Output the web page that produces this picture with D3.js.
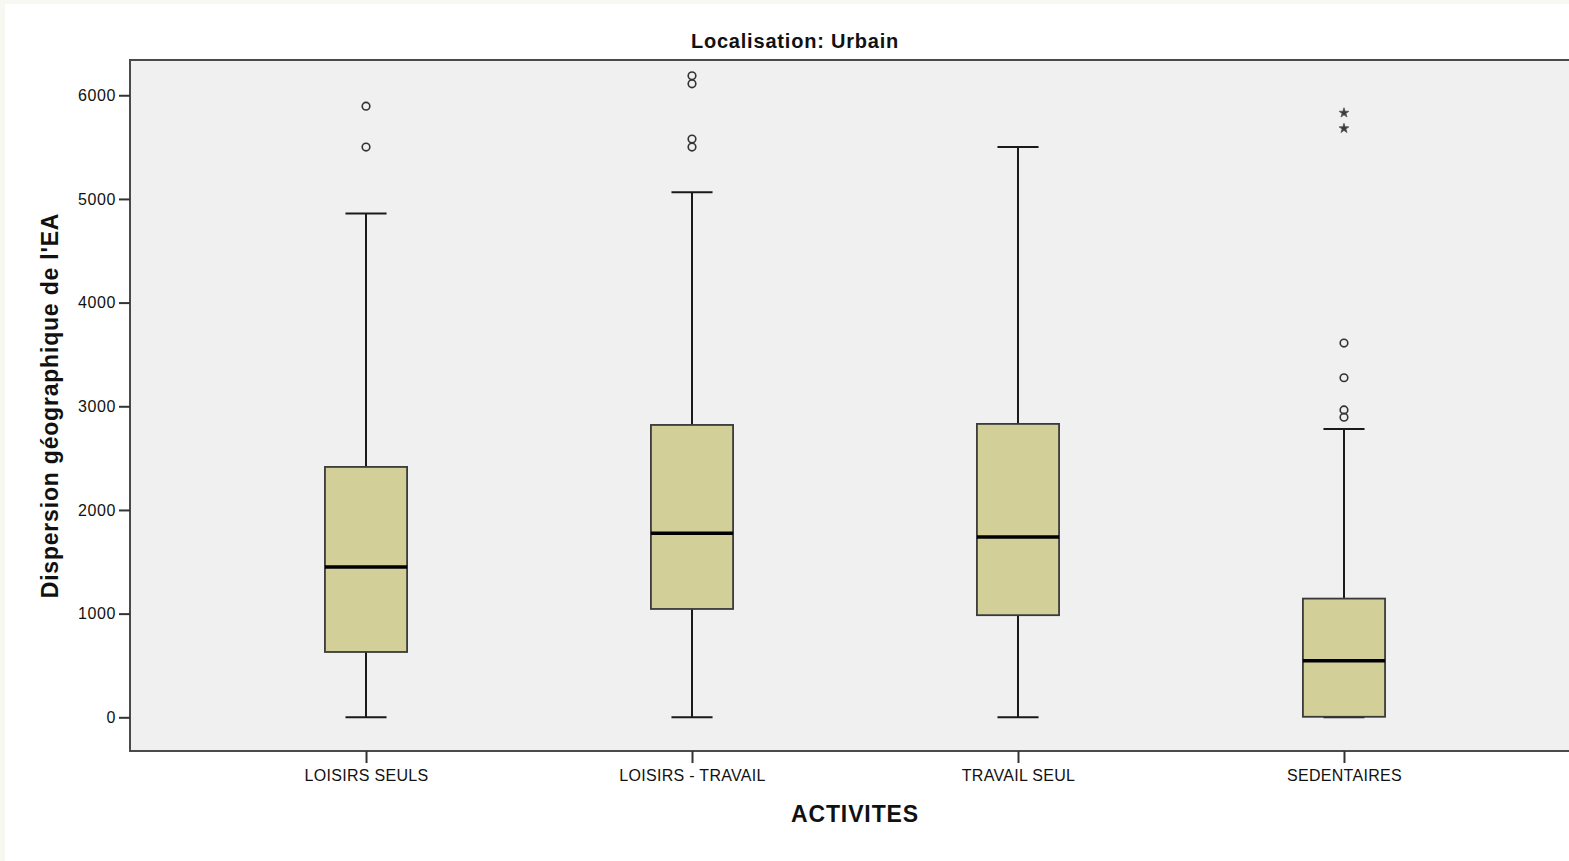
<!DOCTYPE html>
<html>
<head>
<meta charset="utf-8">
<script src="https://cdn.jsdelivr.net/npm/d3@7"></script>
<style>
  html, body { margin: 0; padding: 0; background: #ffffff; }
  svg { display: block; }
  text { font-family: "Liberation Sans", Arial, sans-serif; fill: #111; }
</style>
</head>
<body>
<svg id="chart" width="1569" height="861"></svg>
<script>
// ---- data ----
const categories = ["LOISIRS SEULS", "LOISIRS - TRAVAIL", "TRAVAIL SEUL", "SEDENTAIRES"];
const whiskerLow  = [0, 0, 0, 0];
const q1Values    = [630, 1045, 985, 5];
const medians     = [1450, 1775, 1740, 545];
const q3Values    = [2415, 2820, 2830, 1145];
const whiskerHigh = [4860, 5065, 5500, 2780];
// outliers (circles) and extremes (stars): [categoryIndex, value]
const outliers = [[0, 5895], [0, 5500],
                  [1, 6188], [1, 6110], [1, 5578], [1, 5500],
                  [3, 3610], [3, 3275], [3, 2965], [3, 2895]];
const extremes = [[3, 5830], [3, 5680]];
const yTicks = [0, 1000, 2000, 3000, 4000, 5000, 6000];
const chartTitle = "Localisation: Urbain";
const xTitle = "ACTIVITES";
const yTitle = "Dispersion géographique de l'EA";

// ---- layout ----
const svg = d3.select("#chart");
const W = 1569, H = 861;
const plot = { left: 130, right: 1580, top: 60, bottom: 751 };

svg.append("rect").attr("width", W).attr("height", H).attr("fill", "#f7f8f1");
svg.append("rect").attr("x", 5).attr("y", 4).attr("width", W).attr("height", H).attr("fill", "#ffffff");

const x = d3.scalePoint().domain(categories).range([plot.left, plot.right]).padding(0.724);
const y = d3.scaleLinear().domain([-325, 6340]).range([plot.bottom, plot.top]);

const boxW = x.step() * 0.252;
const capW = boxW / 2;

// plot background
svg.append("rect")
  .attr("x", plot.left).attr("y", plot.top)
  .attr("width", plot.right - plot.left).attr("height", plot.bottom - plot.top)
  .attr("fill", "#f0f0f0");

const boxes = categories.map((c, i) => ({
  cat: c, lo: whiskerLow[i], q1: q1Values[i], med: medians[i], q3: q3Values[i], hi: whiskerHigh[i]
}));

const g = svg.append("g");

// whiskers
const wg = g.selectAll("g.box").data(boxes).join("g").attr("class", "box");
wg.append("line")
  .attr("x1", d => x(d.cat)).attr("x2", d => x(d.cat))
  .attr("y1", d => y(d.q3)).attr("y2", d => y(d.hi))
  .attr("stroke", "#1a1a1a").attr("stroke-width", 2);
wg.append("line")
  .attr("x1", d => x(d.cat)).attr("x2", d => x(d.cat))
  .attr("y1", d => y(d.q1)).attr("y2", d => y(d.lo))
  .attr("stroke", "#1a1a1a").attr("stroke-width", 2);
wg.append("line")
  .attr("x1", d => x(d.cat) - capW / 2).attr("x2", d => x(d.cat) + capW / 2)
  .attr("y1", d => y(d.hi)).attr("y2", d => y(d.hi))
  .attr("stroke", "#1a1a1a").attr("stroke-width", 2);
wg.append("line")
  .attr("x1", d => x(d.cat) - capW / 2).attr("x2", d => x(d.cat) + capW / 2)
  .attr("y1", d => y(d.lo)).attr("y2", d => y(d.lo))
  .attr("stroke", "#1a1a1a").attr("stroke-width", 2);
// box
wg.append("rect")
  .attr("x", d => x(d.cat) - boxW / 2).attr("width", boxW)
  .attr("y", d => y(d.q3)).attr("height", d => y(d.q1) - y(d.q3))
  .attr("fill", "#d3cf98").attr("stroke", "#3a3a3a").attr("stroke-width", 1.8);
// median
wg.append("line")
  .attr("x1", d => x(d.cat) - boxW / 2).attr("x2", d => x(d.cat) + boxW / 2)
  .attr("y1", d => y(d.med)).attr("y2", d => y(d.med))
  .attr("stroke", "#000").attr("stroke-width", 3.5);

// outliers
g.selectAll("circle.out").data(outliers).join("circle").attr("class", "out")
  .attr("cx", d => x(categories[d[0]]))
  .attr("cy", d => y(d[1]))
  .attr("r", 3.8)
  .attr("fill", "none").attr("stroke", "#333").attr("stroke-width", 1.6);

// extremes
g.selectAll("path.ext").data(extremes).join("path").attr("class", "ext")
  .attr("transform", d => `translate(${x(categories[d[0]])},${y(d[1])})`)
  .attr("d", d3.symbol().type(d3.symbolStar).size(30))
  .attr("fill", "#3a3a3a").attr("stroke", "#555").attr("stroke-width", 0.8);

// frame (left, top, bottom; right side is off-screen)
svg.append("rect")
  .attr("x", plot.left).attr("y", plot.top)
  .attr("width", plot.right - plot.left).attr("height", plot.bottom - plot.top)
  .attr("fill", "none").attr("stroke", "#4a4a4a").attr("stroke-width", 2);

// y axis
const yAxis = d3.axisLeft(y).tickValues(yTicks).tickSize(11).tickPadding(3).tickFormat(d3.format("d"));
const ya = svg.append("g").attr("transform", `translate(${plot.left},0)`).call(yAxis);
ya.select(".domain").remove();
ya.selectAll(".tick line").attr("stroke", "#333").attr("stroke-width", 2);
ya.selectAll(".tick text").attr("font-size", 16).attr("fill", "#222")
  .attr("font-family", "'Liberation Sans', Arial, sans-serif").style("letter-spacing", "0.6px");

// x axis
const xAxis = d3.axisBottom(x).tickSize(12).tickPadding(7);
const xa = svg.append("g").attr("transform", `translate(0,${plot.bottom})`).call(xAxis);
xa.select(".domain").remove();
xa.selectAll(".tick line").attr("stroke", "#333").attr("stroke-width", 2);
xa.selectAll(".tick text").attr("font-size", 16).attr("fill", "#222")
  .attr("font-family", "'Liberation Sans', Arial, sans-serif").style("letter-spacing", "0.3px");

// titles
svg.append("text").attr("x", 795).attr("y", 48).attr("text-anchor", "middle")
  .attr("font-size", 20).attr("font-weight", "bold").style("letter-spacing", "0.8px")
  .text(chartTitle);
svg.append("text").attr("x", (plot.left + plot.right) / 2).attr("y", 822).attr("text-anchor", "middle")
  .attr("font-size", 23).attr("font-weight", "bold").style("letter-spacing", "0.9px")
  .text(xTitle);
svg.append("text")
  .attr("transform", `translate(58,${(plot.top + plot.bottom) / 2}) rotate(-90)`)
  .attr("text-anchor", "middle")
  .attr("font-size", 23).attr("font-weight", "bold").style("letter-spacing", "0.8px")
  .text(yTitle);
</script>
</body>
</html>
